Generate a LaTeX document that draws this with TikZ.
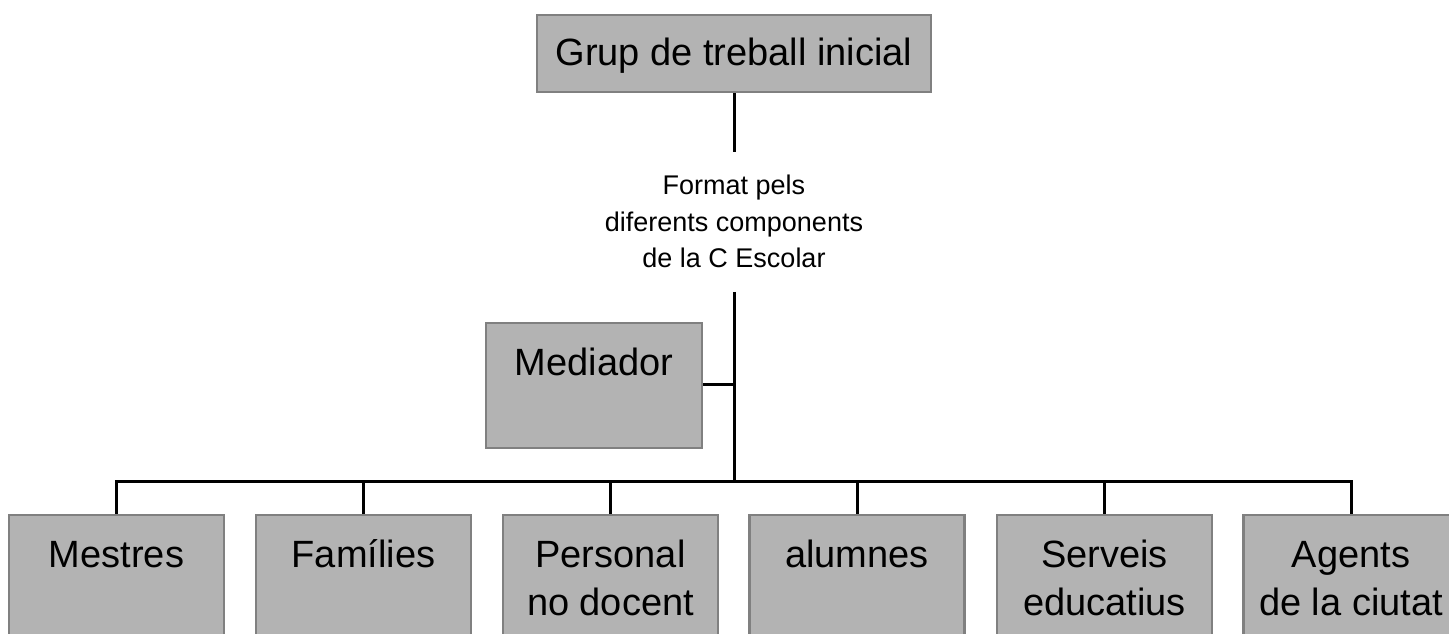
\documentclass[tikz,border=0pt]{standalone}
\usepackage{fontspec}
\setmainfont{Liberation Sans}
\definecolor{boxfill}{HTML}{B3B3B3}
\definecolor{boxline}{HTML}{808080}
\tikzset{
  gbox/.style={draw=boxline, fill=boxfill, line width=2.2pt, inner sep=0pt,
    align=center, font=\fontsize{38}{48}\selectfont},
  lowbox/.style={gbox, minimum width=215pt, text height=52pt, text depth=73pt},
  lowboxtwo/.style={gbox, minimum width=215pt, text height=100pt, text depth=25pt},
  conn/.style={draw=black, line width=3pt},
  lab/.style={inner sep=0pt, align=center, minimum height=140pt,
    font=\fontsize{27}{36.6}\selectfont}
}
\begin{document}
\begin{tikzpicture}[x=1pt,y=1pt]
\useasboundingbox (0,0) rectangle (1449,-633);
\clip (0,0) rectangle (1449,-633);
\fill[white] (0,0) rectangle (1449,-633);

\coordinate (medj) at (734,-384.5);
\coordinate (bus) at (734,-481);

\node[gbox, minimum width=394pt, text height=50pt, text depth=27pt] (top) at (734,-53.5) {Grup de treball inicial};
\node[lab] (lab) at (734,-221.7) {Format pels\\diferents components\\de la C Escolar};

\draw[conn] (top.south) -- (lab.north);
\draw[conn] (lab.south) -- (bus);

\node[lowbox, minimum width=216pt, anchor=north] (med) at (594,-322) {Mediador};

\node[lowbox, anchor=north] (b1) at (116.5,-514) {Mestres};
\node[lowbox, anchor=north] (b2) at (363.5,-514) {Famílies};
\node[lowboxtwo, anchor=north] (b3) at (610.5,-514) {Personal\\no docent};
\node[lowbox, anchor=north] (b4) at (857,-514) {alumnes};
\node[lowboxtwo, anchor=north] (b5) at (1104.5,-514) {Serveis\\educatius};
\node[lowboxtwo, anchor=north] (b6) at (1351,-514) {Agents\\de la ciutat};

\draw[conn] (med.east |- medj) -- (medj);
\foreach \b in {b1,b2,b3,b4,b5,b6}{
  \draw[conn] (bus) -| (\b.north);
}
\end{tikzpicture}
\end{document}
